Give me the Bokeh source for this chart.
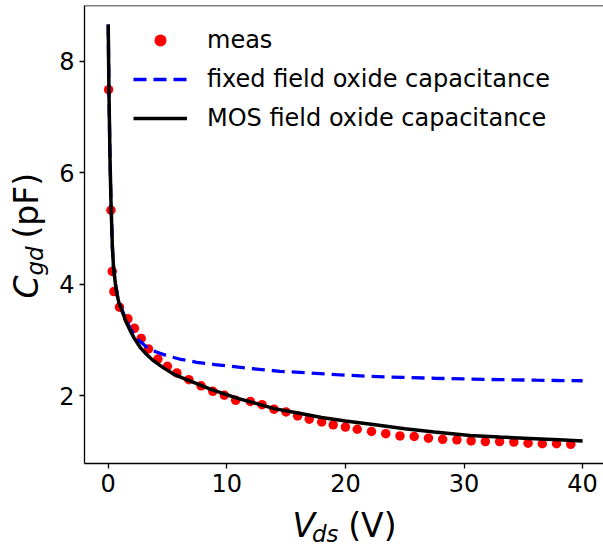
import math
from bokeh.plotting import figure
from bokeh.layouts import row, column
from bokeh.models import Range1d, FixedTicker, Span, Legend, LegendItem
from bokeh.core.properties import value
from bokeh.embed import file_html
from bokeh.resources import INLINE

# ---- data ----
meas_v = [0.03, 0.23, 0.34, 0.48, 0.95, 1.66, 2.21, 2.78, 3.39, 4.19, 4.99, 5.79, 6.80, 7.83,
          8.82, 9.79, 10.75, 11.98, 12.97, 13.98, 14.99, 15.97, 16.95, 18.0, 18.97, 20.0, 21.0,
          22.2, 23.4, 24.6, 25.8, 27.0, 28.2, 29.4, 30.6, 31.8, 33.0, 34.2, 35.4, 36.6, 37.8, 39.0]
meas_c = [7.49, 5.33, 4.23, 3.87, 3.59, 3.38, 3.21, 3.03, 2.84, 2.66, 2.53, 2.41, 2.29, 2.18,
          2.08, 2.01, 1.92, 1.90, 1.84, 1.76, 1.71, 1.64, 1.58, 1.53, 1.48, 1.44, 1.40,
          1.36, 1.32, 1.28, 1.27, 1.24, 1.22, 1.21, 1.19, 1.18, 1.18, 1.17, 1.15, 1.14, 1.14, 1.13]

fixed_v = [0, 0.06, 0.15, 0.23, 0.35, 0.45, 0.6, 0.73, 0.9, 1.15, 1.5, 1.85, 2.13, 2.6, 3.26,
           4.0, 4.94, 6.0, 7.47, 9.0, 10.27, 12.0, 14.48, 17, 19.26, 22, 24.87, 27.5, 30.5,
           33, 36.1, 38, 40]
fixed_c = [8.66, 7.48, 6.27, 5.50, 4.67, 4.30, 4.02, 3.84, 3.69, 3.55, 3.37, 3.21, 3.11, 2.99,
           2.87, 2.79, 2.72, 2.66, 2.60, 2.56, 2.53, 2.49, 2.44, 2.41, 2.38, 2.35, 2.33, 2.315,
           2.30, 2.29, 2.28, 2.275, 2.27]

mos_v = [0, 0.06, 0.15, 0.23, 0.35, 0.45, 0.6, 0.73, 0.9, 1.15, 1.5, 1.85, 2.2, 2.69, 3.2,
         3.81, 4.6, 5.5, 6.5, 7.47, 8.5, 9.71, 11, 12.52, 14, 16, 18, 20, 22.5, 25, 27.5,
         30.5, 33, 36, 38, 40]
mos_c = [8.66, 7.48, 6.27, 5.50, 4.67, 4.30, 4.02, 3.83, 3.67, 3.53, 3.33, 3.17, 3.03, 2.87,
         2.75, 2.63, 2.51, 2.39, 2.30, 2.22, 2.13, 2.04, 1.95, 1.86, 1.77, 1.69, 1.61, 1.55,
         1.48, 1.41, 1.35, 1.29, 1.26, 1.23, 1.21, 1.19]

x_ticks = [0, 10, 20, 30, 40]
y_ticks = [2, 4, 6, 8]
labels = ["meas", "fixed field oxide capacitance", "MOS field oxide capacitance"]

FONT = "DejaVu Sans"

# ---- main plot ----
p = figure(width=553, height=503, output_backend="svg", toolbar_location=None,
           x_range=Range1d(-2.0, 41.76), y_range=Range1d(0.786, 9.0),
           min_border_left=34, min_border_right=0, min_border_top=5, min_border_bottom=40)
p.grid.visible = False
p.outline_line_color = None
p.background_fill_color = "white"
p.border_fill_color = "white"

r_meas = p.scatter(meas_v, meas_c, size=9.5, fill_color="red", line_color=None)
r_fixed = p.line(fixed_v, fixed_c, line_color="blue", line_width=3.3, line_dash="13 7")
r_mos = p.line(mos_v, mos_c, line_color="black", line_width=3.5)

for ax, ticks in ((p.xaxis, x_ticks), (p.yaxis, y_ticks)):
    ax.ticker = FixedTicker(ticks=ticks)
    ax.minor_tick_line_color = None
    ax.major_tick_in = 0
    ax.major_tick_out = 5
    ax.major_tick_line_width = 1.3
    ax.major_tick_line_color = "black"
    ax.axis_line_width = 1.3
    ax.axis_line_color = "black"
    ax.major_label_text_font = FONT
    ax.major_label_text_font_size = "24px"
    ax.major_label_text_color = "black"
    ax.major_label_standoff = 5

p.add_layout(Span(location=9.0, dimension="width", line_color="black", line_width=1.3))

legend = Legend(items=[LegendItem(label=labels[0], renderers=[r_meas]),
                       LegendItem(label=labels[1], renderers=[r_fixed]),
                       LegendItem(label=labels[2], renderers=[r_mos])],
                location=(49, 330), label_text_font=FONT, label_text_font_size="24px",
                label_text_color="black",
                border_line_color=None, background_fill_alpha=0,
                glyph_width=54, glyph_height=30, label_height=30, label_standoff=20,
                spacing=9, padding=0, margin=0)
p.add_layout(legend)


def blank(w, h):
    f = figure(width=w, height=h, output_backend="svg", toolbar_location=None,
               x_range=Range1d(0, w), y_range=Range1d(0, h),
               x_axis_type=None, y_axis_type=None, min_border=0,
               min_border_left=0, min_border_right=0, min_border_top=0, min_border_bottom=0)
    f.grid.visible = False
    f.outline_line_color = None
    f.background_fill_color = "white"
    f.border_fill_color = "white"
    return f


def lab(f, x, y, text, size, italic=False, angle=0.0):
    f.text(x=[x], y=[y], text=[text],
           text_font=value(FONT), text_font_size=value(size),
           text_font_style="italic" if italic else "normal",
           text_color="black", text_align="left", text_baseline="middle",
           angle=angle)


# ---- y axis label panel:  C_gd (pF) ----
ylab = blank(50, 547)
a = math.pi / 2
lab(ylab, 25.6, 249, "C", "33px", italic=True, angle=a)
lab(ylab, 34.0, 272, "gd", "23px", italic=True, angle=a)
lab(ylab, 25.6, 309, "(pF)", "33px", angle=a)

# ---- x axis label panel:  V_ds (V) ----
xlab = blank(553, 44)
lab(xlab, 221.7, 21.7, "V", "33px", italic=True)
lab(xlab, 242.3, 13.3, "ds", "23px", italic=True)
lab(xlab, 281, 21.7, "(V)", "33px")

layout = row(ylab, column(p, xlab, spacing=0), spacing=0)

open("out.html", "w").write(file_html(layout, INLINE))
